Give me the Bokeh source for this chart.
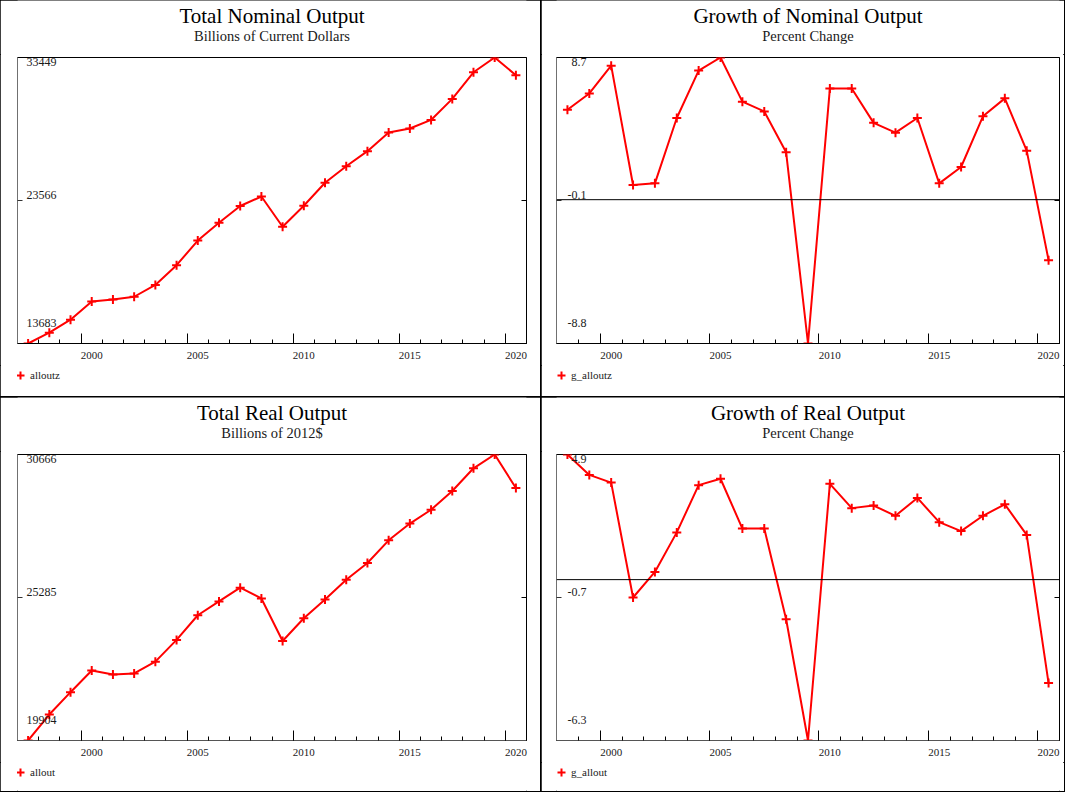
from bokeh.plotting import figure
from bokeh.layouts import column, row
from bokeh.models import (FixedTicker, Label, Legend, LegendItem, Span,
                          ColumnDataSource, LinearAxis, Range1d, CustomJSTickFormatter)
from bokeh.embed import file_html
from bokeh.resources import INLINE

# ---------------- data ----------------
level_years = list(range(1997, 2021))
growth_years = list(range(1998, 2021))

alloutz = [13683, 14433, 15330, 16593, 16730, 16914, 17732, 19095, 20799, 22026,
           23185, 23839, 21753, 23205, 24793, 25932, 26974, 28269, 28542, 29135,
           30587, 32427, 33449, 32222]
g_alloutz = [5.5, 6.5, 8.2, 0.9, 1.0, 5.0, 7.9, 8.7, 6.0, 5.4, 2.9, -8.8, 6.8, 6.8,
             4.7, 4.1, 5.0, 1.0, 2.0, 5.1, 6.2, 3.0, -3.7]
allout = [19904, 20880, 21722, 22539, 22390, 22427, 22872, 23689, 24617, 25136,
          25656, 25248, 23650, 24505, 25210, 25953, 26584, 27437, 28068, 28588,
          29293, 30147, 30666, 29404]
g_allout = [4.9, 4.1, 3.8, -0.7, 0.3, 1.85, 3.7, 3.95, 2.0, 2.0, -1.55, -6.3, 3.75,
            2.8, 2.9, 2.5, 3.2, 2.25, 1.9, 2.5, 2.95, 1.75, -4.05]

# y tick values (min, mid, max) and their labels
alloutz_ticks = [13683, 23566, 33449]
alloutz_tick_labels = ["13683", "23566", "33449"]
g_alloutz_ticks = [-8.8, -0.05, 8.7]
g_alloutz_tick_labels = ["-8.8", "-0.1", "8.7"]
allout_ticks = [19904, 25285, 30666]
allout_tick_labels = ["19904", "25285", "30666"]
g_allout_ticks = [-6.3, -0.7, 4.9]
g_allout_tick_labels = ["-6.3", "-0.7", "4.9"]

x_label_years = [2000, 2005, 2010, 2015, 2020]

titles = ["Total Nominal Output", "Growth of Nominal Output",
          "Total Real Output", "Growth of Real Output"]
subtitles = ["Billions of Current Dollars", "Percent Change",
             "Billions of 2012$", "Percent Change"]
names = ["alloutz", "g_alloutz", "allout", "g_allout"]

FONT = "Liberation Serif"
TXT = "#1a1a1a"
HEADER_H = 54
FRAME_H = 286
MAIN_TOP = 3
MAIN_BOTTOM = 22


def empty_fmt():
    return CustomJSTickFormatter(code="return ''")


def strip(width, height):
    s = figure(width=width, height=height, output_backend="svg", toolbar_location=None,
               x_range=Range1d(0, 1), y_range=Range1d(0, 1),
               x_axis_type=None, y_axis_type=None,
               min_border_left=0, min_border_right=0, min_border_top=0,
               min_border_bottom=0)
    s.outline_line_color = None
    s.background_fill_color = "white"
    s.border_fill_color = "white"
    return s


def make_panel(x_years, values, yticks, ytexts, title, subtitle, name,
               bl, frame_w, br, footer_h, zero_line, label_align, label_dx, xaxis_color):
    width = bl + frame_w + br
    x0 = x_years[0]
    x1 = x_years[-1] + 1
    xs = [y + 0.5 for y in x_years]
    src = ColumnDataSource(dict(x=xs, y=values))

    # ---- header with title and subtitle (frame is aligned with the plot frame)
    head = strip(width, HEADER_H)
    cx = frame_w / 2
    head.add_layout(Label(x=cx, y=39, x_units="screen", y_units="screen",
                          text=title, text_align="center", text_baseline="alphabetic",
                          text_font=FONT, text_font_size="21px", text_color="black"))
    head.add_layout(Label(x=cx, y=19, x_units="screen", y_units="screen",
                          text=subtitle, text_align="center", text_baseline="alphabetic",
                          text_font=FONT, text_font_size="14.5px", text_color=TXT))

    # ---- main plot
    p = figure(width=width, height=MAIN_TOP + FRAME_H + MAIN_BOTTOM, output_backend="svg",
               toolbar_location=None,
               x_range=Range1d(x0, x1), y_range=Range1d(min(yticks), max(yticks)),
               min_border_left=bl, min_border_right=br, min_border_top=MAIN_TOP,
               min_border_bottom=MAIN_BOTTOM)
    p.grid.visible = False
    p.outline_line_color = "black"
    p.outline_line_width = 1
    p.background_fill_color = "white"
    p.border_fill_color = "white"

    xa = p.below[0]
    ya = p.left[0]

    # x axis: year-boundary ticks
    xa.ticker = FixedTicker(ticks=x_label_years, minor_ticks=list(range(x0, x1 + 1)))
    xa.formatter = empty_fmt()
    xa.major_tick_in = 10
    xa.major_tick_out = 0
    xa.minor_tick_in = 4
    xa.minor_tick_out = 0
    xa.axis_line_color = xaxis_color
    xa.major_tick_line_color = "black"
    xa.minor_tick_line_color = "black"
    xa.major_label_standoff = 0
    xa.major_label_text_font_size = "1px"

    # x axis: year labels centred in the year
    la = LinearAxis(ticker=FixedTicker(ticks=[y + 0.5 for y in x_label_years],
                                       minor_ticks=[]),
                    formatter=CustomJSTickFormatter(code="return String(Math.floor(tick))"),
                    axis_line_color=None, major_tick_line_color=None,
                    minor_tick_line_color=None, major_tick_in=0, major_tick_out=0,
                    major_label_standoff=8, major_label_text_font=FONT,
                    major_label_text_font_size="11px", major_label_text_color=TXT)
    p.add_layout(la, "below")

    # left y axis
    ya.ticker = FixedTicker(ticks=[yticks[1]], minor_ticks=[])
    ya.formatter = empty_fmt()
    ya.major_tick_in = 5
    ya.major_tick_out = 0
    ya.axis_line_color = "#707070"
    ya.major_tick_line_color = "#333333"
    ya.major_label_standoff = 0
    ya.major_label_text_font_size = "1px"

    ra = LinearAxis(ticker=FixedTicker(ticks=[yticks[1]], minor_ticks=[]),
                    formatter=empty_fmt(), major_tick_in=5, major_tick_out=0,
                    axis_line_color="black", major_tick_line_color="black",
                    major_label_standoff=0, major_label_text_font_size="1px")
    p.add_layout(ra, "right")

    if zero_line:
        p.add_layout(Span(location=0, dimension="width", line_color="black",
                          line_width=1))

    p.line("x", "y", source=src, line_color="red", line_width=2)
    p.scatter("x", "y", source=src, marker="cross", size=9,
              line_color="red", line_width=2)

    # y value labels (min, mid, max) inside the frame
    yoffs = [21, 6, -4]
    for v, t, off in zip(yticks, ytexts, yoffs):
        p.add_layout(Label(x=x0, y=v, text=t, x_offset=label_dx, y_offset=off,
                           text_align=label_align, text_baseline="alphabetic",
                           text_font=FONT, text_font_size="12px", text_color=TXT))

    # ---- footer with the legend (key glyph uses the same series, out of view)
    foot = strip(width, footer_h)
    key = foot.scatter("x", "y", source=src, marker="cross", size=9, line_color="red",
                       line_width=2)
    leg = Legend(items=[LegendItem(label=name, renderers=[key])],
                 location=(10 - bl, footer_h - 20),
                 glyph_width=20, glyph_height=20, label_standoff=0, padding=0,
                 margin=0, spacing=0, border_line_alpha=0, background_fill_alpha=0,
                 label_text_font=FONT, label_text_font_size="11px",
                 label_text_color=TXT, label_height=20)
    foot.add_layout(leg)

    return column(head, p, foot, spacing=0,
                  styles={"outline": "2px solid black", "outline-offset": "-1px"})


c1 = make_panel(level_years, alloutz, alloutz_ticks, alloutz_tick_labels, titles[0],
                subtitles[0], names[0], 17, 509, 15, 32, False, "left", 9, "black")
c2 = make_panel(growth_years, g_alloutz, g_alloutz_ticks, g_alloutz_tick_labels,
                titles[1], subtitles[1], names[1], 15, 503, 5, 32, True, "right", 30,
                "black")
c3 = make_panel(level_years, allout, allout_ticks, allout_tick_labels, titles[2],
                subtitles[2], names[2], 17, 509, 15, 29, False, "left", 9, "#555555")
c4 = make_panel(growth_years, g_allout, g_allout_ticks, g_allout_tick_labels,
                titles[3], subtitles[3], names[3], 15, 503, 5, 29, True, "right", 30,
                "#555555")

layout = column(row(c1, c2, spacing=0), row(c3, c4, spacing=0), spacing=0)
open("out.html", "w").write(file_html(layout, INLINE))
